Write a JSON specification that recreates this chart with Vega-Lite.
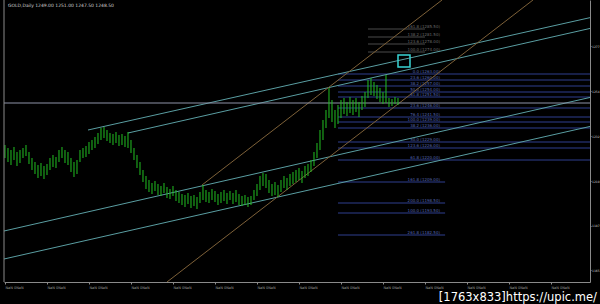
{
"$schema":"https://vega.github.io/schema/vega-lite/v6.json",
"width":586,"height":282,"autosize":{"type":"none"},
"padding":{"left":4,"right":10,"top":0,"bottom":22},
"background":"#000000",
"config":{"view":{"stroke":null}},
"title":{"text":"[1763x833]https://upic.me/","orient":"bottom","anchor":"end","frame":"group","color":"#ffffff","fontSize":11.5,"font":"DejaVu Sans","fontWeight":"normal","offset":3,"dx":7},
"resolve":{"scale":{"color":"independent"}},
"datasets":{
"bars":[
{"i":0,"h":1227.5,"l":1221},{"i":1,"h":1226,"l":1219},{"i":2,"h":1225,"l":1217.5},{"i":3,"h":1226.5,"l":1220},{"i":4,"h":1224,"l":1217},{"i":5,"h":1225,"l":1218.5},{"i":6,"h":1226,"l":1221},{"i":7,"h":1227.5,"l":1222},{"i":8,"h":1224,"l":1218},{"i":9,"h":1221,"l":1215},
{"i":10,"h":1219,"l":1213},{"i":11,"h":1217.5,"l":1211},{"i":12,"h":1218.5,"l":1212},{"i":13,"h":1217,"l":1210.5},{"i":14,"h":1218,"l":1212.5},{"i":15,"h":1221,"l":1215},{"i":16,"h":1222.5,"l":1216.5},{"i":17,"h":1221.5,"l":1216},{"i":18,"h":1225,"l":1219},{"i":19,"h":1226.5,"l":1221},
{"i":20,"h":1225,"l":1218.5},{"i":21,"h":1224,"l":1217.5},{"i":22,"h":1221,"l":1214},{"i":23,"h":1219,"l":1211.5},{"i":24,"h":1220,"l":1213},{"i":25,"h":1225,"l":1219},{"i":26,"h":1226,"l":1221},{"i":27,"h":1227,"l":1221.5},{"i":28,"h":1229,"l":1223},{"i":29,"h":1230,"l":1225},
{"i":30,"h":1231.5,"l":1226},{"i":31,"h":1233.5,"l":1228},{"i":32,"h":1236,"l":1230},{"i":33,"h":1236.5,"l":1231},{"i":34,"h":1235,"l":1229.5},{"i":35,"h":1233.5,"l":1228.5},{"i":36,"h":1233,"l":1227.5},{"i":37,"h":1234,"l":1228.5},{"i":38,"h":1232.5,"l":1227},{"i":39,"h":1233,"l":1227.5},
{"i":40,"h":1232,"l":1226.5},{"i":41,"h":1234,"l":1226},{"i":42,"h":1230,"l":1223.5},{"i":43,"h":1226,"l":1220},{"i":44,"h":1222.5,"l":1216},{"i":45,"h":1219,"l":1212.5},{"i":46,"h":1215,"l":1209},{"i":47,"h":1212,"l":1205.5},{"i":48,"h":1210,"l":1204},{"i":49,"h":1208.5,"l":1203},
{"i":50,"h":1209.5,"l":1204.5},{"i":51,"h":1208,"l":1202.5},{"i":52,"h":1207,"l":1202},{"i":53,"h":1208.5,"l":1203.5},{"i":54,"h":1206.5,"l":1201},{"i":55,"h":1205.5,"l":1200.5},{"i":56,"h":1207,"l":1202},{"i":57,"h":1205,"l":1199.5},{"i":58,"h":1204,"l":1198.5},{"i":59,"h":1203,"l":1197.5},
{"i":60,"h":1202.5,"l":1196.5},{"i":61,"h":1203.5,"l":1198},{"i":62,"h":1202,"l":1196},{"i":63,"h":1202.5,"l":1197},{"i":64,"h":1201.5,"l":1195.5},{"i":65,"h":1204,"l":1198.5},{"i":66,"h":1207.5,"l":1200},{"i":67,"h":1205,"l":1199},{"i":68,"h":1204,"l":1198.5},{"i":69,"h":1205.5,"l":1200},
{"i":70,"h":1204.5,"l":1199},{"i":71,"h":1203,"l":1197.5},{"i":72,"h":1204,"l":1198.5},{"i":73,"h":1205,"l":1199.5},{"i":74,"h":1203.5,"l":1198},{"i":75,"h":1204.5,"l":1200},{"i":76,"h":1203.5,"l":1198},{"i":77,"h":1205,"l":1199},{"i":78,"h":1203,"l":1197.5},{"i":79,"h":1202,"l":1197},
{"i":80,"h":1202.5,"l":1197.5},{"i":81,"h":1201.5,"l":1196.5},{"i":82,"h":1202,"l":1197.5},{"i":83,"h":1205,"l":1200},{"i":84,"h":1208,"l":1202},{"i":85,"h":1212,"l":1205},{"i":86,"h":1213.5,"l":1207},{"i":87,"h":1213,"l":1206},{"i":88,"h":1210,"l":1203.5},{"i":89,"h":1208,"l":1202},
{"i":90,"h":1209,"l":1202.5},{"i":91,"h":1207.5,"l":1201.5},{"i":92,"h":1210,"l":1204},{"i":93,"h":1212,"l":1206},{"i":94,"h":1211,"l":1205},{"i":95,"h":1213,"l":1207},{"i":96,"h":1214,"l":1208},{"i":97,"h":1215,"l":1209},{"i":98,"h":1216,"l":1210},{"i":99,"h":1214.5,"l":1208.5},
{"i":100,"h":1217,"l":1211},{"i":101,"h":1218,"l":1212},{"i":102,"h":1220,"l":1214},{"i":103,"h":1224,"l":1217},{"i":104,"h":1228.5,"l":1221},{"i":105,"h":1235,"l":1225},{"i":106,"h":1240,"l":1230},{"i":107,"h":1245,"l":1236},{"i":108,"h":1256,"l":1241},{"i":109,"h":1250,"l":1239},
{"i":110,"h":1245,"l":1236},{"i":111,"h":1247.5,"l":1238},{"i":112,"h":1250,"l":1241},{"i":113,"h":1251,"l":1243},{"i":114,"h":1249,"l":1242},{"i":115,"h":1251.5,"l":1243.5},{"i":116,"h":1250,"l":1242.5},{"i":117,"h":1251,"l":1244},{"i":118,"h":1249,"l":1241.5},{"i":119,"h":1252,"l":1245},
{"i":120,"h":1254,"l":1246.5},{"i":121,"h":1260,"l":1251},{"i":122,"h":1261,"l":1252.5},{"i":123,"h":1259,"l":1252},{"i":124,"h":1257.5,"l":1250.5},{"i":125,"h":1256,"l":1249},{"i":126,"h":1254,"l":1248},{"i":127,"h":1262.5,"l":1248.5},{"i":128,"h":1251,"l":1246.5},{"i":129,"h":1250.5,"l":1247},
{"i":130,"h":1251.5,"l":1248},{"i":131,"h":1251,"l":1247.5}
],
"segs":[
{"g":"trend","x":27.67,"y":1235,"x2":195.67,"y2":1291.4},
{"g":"trend","x":41,"y":1233.5,"x2":195.67,"y2":1286},
{"g":"trend","x":-0.33,"y":1184.5,"x2":195.67,"y2":1251.5},
{"g":"trend","x":-0.33,"y":1170.5,"x2":195.67,"y2":1237},
{"g":"orange","x":65.67,"y":1207.5,"x2":145.67,"y2":1300},
{"g":"orange","x":54,"y":1159,"x2":176,"y2":1300},
{"g":"price","x":-0.33,"y":1248.5,"x2":195.67,"y2":1248.5}
],
"fibs":[
{"k":"ext","p":1285.5,"x":121,"x2":140,"t":"161.8 (1285.50)"},
{"k":"ext","p":1281.5,"x":121,"x2":140,"t":"138.2 (1281.50)"},
{"k":"ext","p":1278,"x":121,"x2":140,"t":"123.6 (1278.00)"},
{"k":"ext","p":1274,"x":121,"x2":140,"t":"100.0 (1274.00)"},
{"k":"fib","p":1263,"x":111,"x2":195.67,"t":"0.0 (1263.00)"},
{"k":"fib","p":1260,"x":111,"x2":195.67,"t":"23.6 (1260.00)"},
{"k":"fib","p":1257,"x":111,"x2":195.67,"t":"38.2 (1257.00)"},
{"k":"fib","p":1254,"x":111,"x2":195.67,"t":"50.0 (1254.00)"},
{"k":"fib","p":1251.5,"x":111,"x2":195.67,"t":"61.8 (1251.50)"},
{"k":"fib","p":1246,"x":111,"x2":195.67,"t":"23.6 (1246.00)"},
{"k":"fib","p":1241.5,"x":111,"x2":195.67,"t":"76.4 (1241.50)"},
{"k":"fib","p":1239,"x":111,"x2":195.67,"t":"100.0 (1239.00)"},
{"k":"fib","p":1236,"x":111,"x2":195.67,"t":"38.2 (1236.00)"},
{"k":"fib","p":1229,"x":111,"x2":195.67,"t":"50.0 (1229.00)"},
{"k":"fib","p":1226,"x":111,"x2":195.67,"t":"123.6 (1226.00)"},
{"k":"fib","p":1220,"x":111,"x2":195.67,"t":"61.8 (1220.00)"},
{"k":"fib","p":1209,"x":111,"x2":146.7,"t":"161.8 (1209.00)"},
{"k":"fib","p":1198.5,"x":111,"x2":146.7,"t":"200.0 (1198.50)"},
{"k":"fib","p":1193.5,"x":111,"x2":146.7,"t":"100.0 (1193.50)"},
{"k":"fib","p":1182.5,"x":111,"x2":146.7,"t":"261.8 (1182.50)"}
]
},
"encoding":{
"x":{"type":"quantitative","scale":{"domain":[-0.33,195.0],"nice":false,"zero":false}},
"y":{"type":"quantitative","scale":{"domain":[1159,1300],"nice":false,"zero":false}}
},
"layer":[
{"data":{"name":"fibs"},"mark":{"type":"rule","strokeWidth":1,"clip":true},
 "encoding":{"x":{"field":"x","type":"quantitative","axis":{"orient":"bottom","title":null,"grid":false,"domainColor":"#8a8a8a","tickColor":"#8a8a8a","tickSize":2,"labelColor":"#9a9a9a","labelFontSize":3.5,"labelFont":"DejaVu Sans","labelPadding":1,"labelAlign":"left","labelOverlap":false,"values":[0,7,14,21,28,35,42,49,56,63,70,77,84,91,98,105,112,119,126,133,140,147,154,161,168,175,182,189],"labelExpr":"timeFormat(datetime(2010,1,8) + datum.value*1.4*86400000, '%d %b %Y')"}},
  "x2":{"field":"x2"},
  "y":{"field":"p","type":"quantitative","axis":{"orient":"right","title":null,"grid":false,"domainColor":"#8a8a8a","tickColor":"#8a8a8a","tickSize":1,"labelColor":"#d0d0d0","labelFontSize":3,"labelFont":"DejaVu Sans","labelPadding":0.5,"labelOverlap":false,"format":".0f","values":[1293.6,1288.0,1282.4,1276.8,1271.2,1265.6,1260.0,1254.4,1248.8,1243.2,1237.6,1232.0,1226.4,1220.8,1215.2,1209.6,1204.0,1198.4,1192.8,1187.2,1181.6,1176.0,1170.4,1164.8]}},
  "color":{"field":"k","type":"nominal","scale":{"domain":["ext","fib"],"range":["#4a4a4a","#2f3f8e"]},"legend":null}}},
{"data":{"name":"fibs"},"mark":{"type":"text","align":"right","baseline":"bottom","dy":-0.5,"fontSize":4,"font":"DejaVu Sans"},
 "encoding":{"x":{"datum":145},"y":{"field":"p","type":"quantitative"},"text":{"field":"t"},
  "color":{"field":"k","type":"nominal","scale":{"domain":["ext","fib"],"range":["#6a6a6a","#5566b0"]},"legend":null}}},
{"data":{"name":"segs"},"mark":{"type":"rule","strokeWidth":1,"clip":true},
 "encoding":{"x":{"field":"x","type":"quantitative"},"x2":{"field":"x2"},"y":{"field":"y","type":"quantitative"},"y2":{"field":"y2"},
  "color":{"field":"g","type":"nominal","scale":{"domain":["trend","orange","price"],"range":["#5a9ea2","#7d6038","#8e93a8"]},"legend":null}}},
{"data":{"name":"bars"},"mark":{"type":"rule","strokeWidth":1,"color":"#22c022"},
 "encoding":{"x":{"field":"i","type":"quantitative"},"y":{"field":"h","type":"quantitative"},"y2":{"field":"l"}}},
{"data":{"values":[{"i":133,"p":1269.5}]},"mark":{"type":"point","shape":"square","size":144,"filled":false,"stroke":"#39d5d5","strokeWidth":1.5,"opacity":1},
 "encoding":{"x":{"field":"i","type":"quantitative"},"y":{"field":"p","type":"quantitative"}}},
{"data":{"values":[{"t":"GOLD,Daily  1249.00 1251.00 1247.50 1248.50"}]},"mark":{"type":"text","align":"left","baseline":"middle","fontSize":4.5,"font":"DejaVu Sans","color":"#d0d0d0"},
 "encoding":{"x":{"datum":1},"y":{"datum":1297.2},"text":{"field":"t"}}},
{"data":{"values":[{"x":-0.33}]},"mark":{"type":"rule","color":"#8a8a8a","strokeWidth":1},
 "encoding":{"x":{"field":"x","type":"quantitative"}}}
]
}
